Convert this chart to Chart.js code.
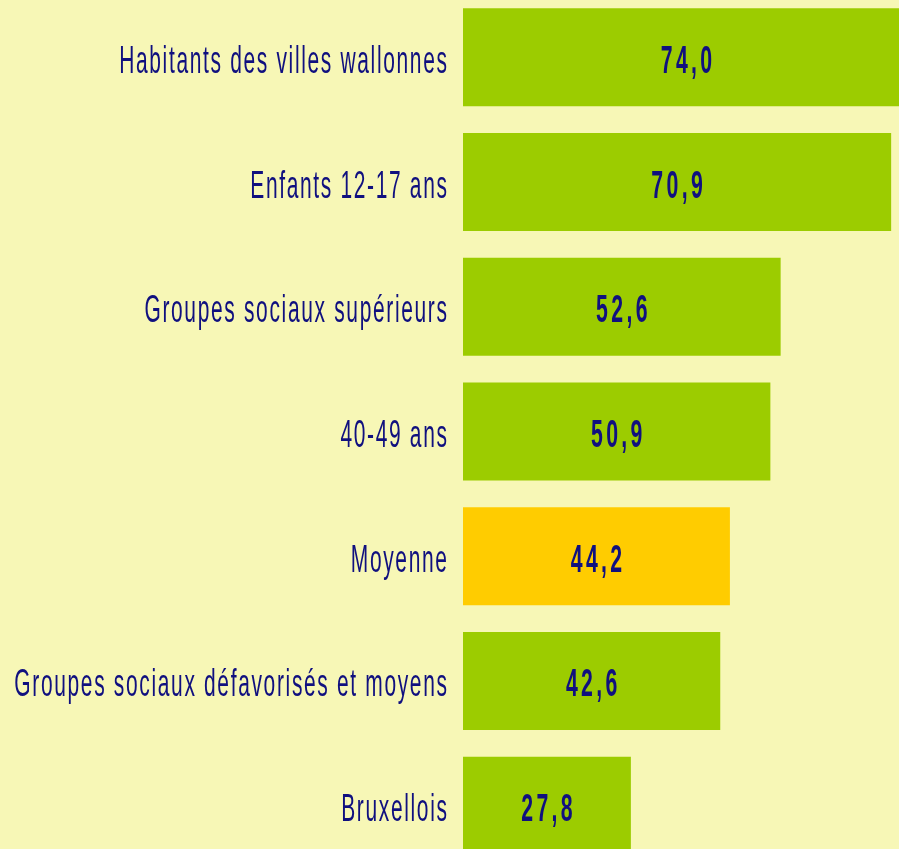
<!DOCTYPE html>
<html lang="fr">
<head>
<meta charset="utf-8">
<title>Habitants - pourcentages</title>
<script src="https://cdn.jsdelivr.net/npm/chart.js@4.4.1/dist/chart.umd.min.js"></script>
<style>
    html, body {
        margin: 0;
        padding: 0;
        width: 899px;
        height: 849px;
        overflow: hidden;
        background: #f7f7b6;
    }
    #chart {
        position: absolute;
        left: 0;
        top: -5px;
    }
</style>
</head>
<body>
<canvas id="chart" width="899" height="873"></canvas>
<script>
// données du graphique
const categories = [
    'Habitants des villes wallonnes',
    'Enfants 12-17 ans',
    'Groupes sociaux supérieurs',
    '40-49 ans',
    'Moyenne',
    'Groupes sociaux défavorisés et moyens',
    'Bruxellois'
];
const values = [74.0, 70.9, 52.6, 50.9, 44.2, 42.6, 27.8];
const highlighted = 'Moyenne';

// couleurs
const BAR_COLOR = '#9ccc00';
const HIGHLIGHT_COLOR = '#ffcc00';
const TEXT_COLOR = '#10107f';

// texte condensé (compressé horizontalement, avec espacement)
function drawCondensed(ctx, text, x, y, font, align, scaleX, spacing) {
    ctx.save();
    ctx.font = font;
    ctx.fillStyle = TEXT_COLOR;
    ctx.textAlign = align;
    ctx.textBaseline = 'alphabetic';
    ctx.letterSpacing = spacing + 'px';
    // compenser l'espace ajouté après le dernier caractère
    const shift = align === 'right' ? spacing * scaleX : align === 'center' ? spacing * scaleX / 2 : 0;
    ctx.translate(x + shift, y);
    ctx.scale(scaleX, 1);
    ctx.fillText(text, 0, 0);
    ctx.restore();
}

// étiquettes des catégories et valeurs
const labelPlugin = {
    id: 'labelPlugin',
    afterDatasetsDraw(chart) {
        const ctx = chart.ctx;
        const xScale = chart.scales.x;
        const yScale = chart.scales.y;
        categories.forEach((cat, i) => {
            const y = yScale.getPixelForValue(i);
            drawCondensed(ctx, cat, xScale.left - 16, y + 15.5,
                '38px "Liberation Sans", Arial, sans-serif', 'right', 0.552, 3);
            const txt = values[i].toFixed(1).replace('.', ',');
            drawCondensed(ctx, txt, xScale.getPixelForValue(values[i] / 2), y + 15.5,
                'bold 38px "Liberation Sans", Arial, sans-serif', 'center', 0.56, 6);
        });
    }
};

new Chart(document.getElementById('chart').getContext('2d'), {
    type: 'bar',
    data: {
        labels: categories,
        datasets: [{
            data: values,
            backgroundColor: categories.map(c => c === highlighted ? HIGHLIGHT_COLOR : BAR_COLOR),
            borderWidth: 0,
            categoryPercentage: 1,
            barPercentage: 0.786
        }]
    },
    options: {
        indexAxis: 'y',
        responsive: false,
        devicePixelRatio: 1,
        animation: false,
        layout: {
            padding: { left: 463, right: 0, top: 0, bottom: 0 }
        },
        plugins: {
            legend: { display: false },
            tooltip: { enabled: false }
        },
        scales: {
            x: {
                display: false,
                min: 0,
                max: 72.2
            },
            y: {
                display: false
            }
        }
    },
    plugins: [labelPlugin]
});
</script>
</body>
</html>
